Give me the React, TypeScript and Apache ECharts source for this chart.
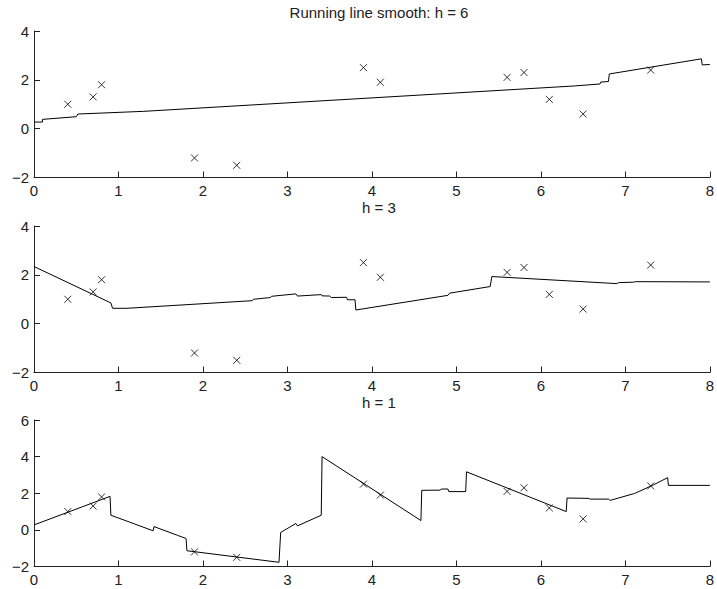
import React, { useEffect, useRef } from "react";
import * as echarts from "echarts";

const pointX = [0.4, 0.7, 0.8, 1.9, 2.4, 3.9, 4.1, 5.6, 5.8, 6.1, 6.5, 7.3];
const pointY = [1.0, 1.3, 1.8, -1.2, -1.5, 2.5, 1.9, 2.1, 2.3, 1.2, 0.6, 2.4];

const smoothH6 = [
  [0, 0.27], [0.1, 0.27], [0.1, 0.38], [0.5, 0.49], [0.52, 0.6], [1.3, 0.71],
  [6.4, 1.75], [6.7, 1.83], [6.71, 1.91], [6.8, 1.93], [6.81, 2.24],
  [7.9, 2.86], [7.91, 2.61], [8, 2.63],
];

const smoothH3 = [
  [0, 2.34], [0.91, 0.85], [0.93, 0.63], [1.1, 0.63], [2.58, 0.94], [2.6, 1.0],
  [2.8, 1.07], [2.81, 1.12], [3.1, 1.22], [3.12, 1.13], [3.4, 1.19], [3.41, 1.14],
  [3.5, 1.13], [3.52, 1.07], [3.7, 1.08], [3.71, 0.98], [3.8, 0.98], [3.81, 0.56],
  [4.9, 1.16], [4.92, 1.25], [5.4, 1.52], [5.42, 1.93], [6.9, 1.64], [6.92, 1.68],
  [7.1, 1.7], [7.12, 1.72], [8, 1.71],
];

const smoothH1 = [
  [0, 0.27], [0.9, 1.83], [0.91, 0.8], [1.41, -0.05], [1.42, 0.18], [1.7, -0.3],
  [1.8, -0.47], [1.81, -1.14], [2.9, -1.77], [2.92, -0.14], [3.1, 0.35], [3.12, 0.22],
  [3.4, 0.8], [3.41, 4.0], [4.58, 0.51], [4.59, 2.16], [4.81, 2.17], [4.82, 2.23],
  [4.9, 2.23], [4.91, 2.09], [5.11, 2.09], [5.12, 3.17], [6.3, 1.0], [6.31, 1.74],
  [6.57, 1.72], [6.58, 1.68], [6.8, 1.68], [6.82, 1.61], [7.11, 1.99], [7.33, 2.45],
  [7.5, 2.85], [7.51, 2.43], [8, 2.43],
];

const panelTitles = ["Running line smooth: h = 6", "h = 3", "h = 1"];
const yRanges = [[-2, 4], [-2, 4], [-2, 6]];

export default function App() {
  const ref = useRef<HTMLDivElement>(null);
  useEffect(() => {
    if (!ref.current) return;
    const chart = echarts.init(ref.current, null, { renderer: "svg" });
    const font = "'Liberation Sans', Arial, Helvetica, sans-serif";
    const tops = [31, 226, 420];
    const h = 146.5;
    const lines = [smoothH6, smoothH3, smoothH1];
    const scatter = pointX.map((x, i) => [x, pointY[i]]);
    const fmt = (v: number) => String(v).replace("-", "\u2212");
    const axisCommon = {
      axisLine: { show: true, onZero: false, lineStyle: { color: "#222", width: 1 } },
      axisTick: { show: true, inside: true, length: 6, lineStyle: { color: "#222" } },
      splitLine: { show: false },
    };
    const titleTops = [12.5, 207.5, 402.5];
    chart.setOption({
      animation: false,
      grid: tops.map((t) => ({ left: 34, top: t, width: 680, height: h })),
      xAxis: tops.map((_, i) => ({
        type: "value", gridIndex: i, min: 0, max: 8, interval: 1,
        ...axisCommon,
        axisLabel: { color: "#222", fontSize: 15, fontFamily: font, margin: 5, formatter: fmt },
      })),
      yAxis: tops.map((_, i) => ({
        type: "value", gridIndex: i, min: yRanges[i][0], max: yRanges[i][1], interval: 2,
        ...axisCommon,
        axisLabel: { color: "#222", fontSize: 15, fontFamily: font, margin: 5, formatter: fmt },
      })),
      series: [
        ...lines.map((d, i) => ({
          type: "line", xAxisIndex: i, yAxisIndex: i, data: d, symbol: "none",
          lineStyle: { color: "#000", width: 1 },
        })),
        ...tops.map((_, i) => ({
          type: "scatter", xAxisIndex: i, yAxisIndex: i, data: scatter,
          symbol: "path://M0,0L10,10M10,0L0,10", symbolSize: 7,
          itemStyle: { color: "rgba(0,0,0,0)", borderColor: "#000", borderWidth: 1 },
        })),
      ],
      graphic: panelTitles.map((t, i) => ({
        type: "text", x: 379, y: titleTops[i],
        style: { text: t, fill: "#222", font: `15px ${font}`, textAlign: "center", textVerticalAlign: "middle" },
      })),
    });
    return () => chart.dispose();
  }, []);
  return <div ref={ref} style={{ position: "fixed", left: 0, top: 0, width: 717, height: 589, background: "#fff" }} />;
}
